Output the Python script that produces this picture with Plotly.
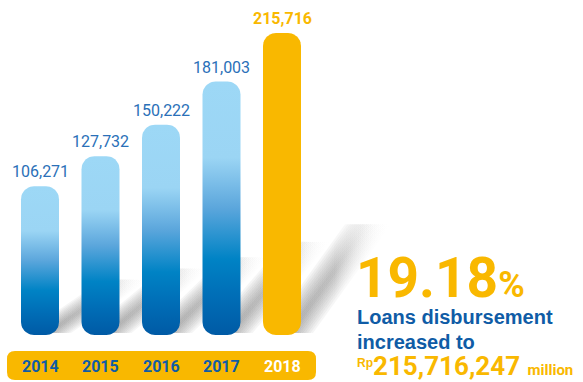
import numpy as np
import plotly.graph_objects as go

# ---- data ----
years = ["2014", "2015", "2016", "2017", "2018"]
loans = [106271, 127732, 150222, 181003, 215716]
value_labels = ["106,271", "127,732", "150,222", "181,003", "215,716"]
growth_text = "19.18"
headline_lines = ["Loans disbursement", "increased to"]
total_text = "215,716,247"

# ---- canvas / scale helpers ----
W, H = 583, 382
PX_PER_X = 60.5                 # pixels between bar centres
X0_PX = 40                      # pixel of first bar centre
BASE_PX = 335                   # pixel row of the zero line
Y_PER_PX = 215716 / 302         # value units per pixel
X_RANGE = [(0 - X0_PX) / PX_PER_X, (W - X0_PX) / PX_PER_X]
Y_RANGE = [(BASE_PX - H) * Y_PER_PX, BASE_PX * Y_PER_PX]

BLUE_TXT = "#2a70b8"
DARK_BLUE = "#0f5ca6"
YELLOW = "#f9b800"

BAR_HALF = 19 / PX_PER_X
R_PX = 13
RX, RY = R_PX / PX_PER_X, R_PX * Y_PER_PX


def px2x(p):
    return (p - X0_PX) / PX_PER_X


def px2y(p):
    return (BASE_PX - p) * Y_PER_PX


def rounded_bar(xc, top):
    """Outline of a bar with all four corners rounded (data coords)."""
    xs, ys = [], []
    arcs = [
        (xc - BAR_HALF + RX, top - RY, 180, 90),
        (xc + BAR_HALF - RX, top - RY, 90, 0),
        (xc + BAR_HALF - RX, RY, 0, -90),
        (xc - BAR_HALF + RX, RY, -90, -180),
    ]
    for cx, cy, a0, a1 in arcs:
        t = np.radians(np.linspace(a0, a1, 12))
        xs.extend(cx + RX * np.cos(t))
        ys.extend(cy + RY * np.sin(t))
    xs.append(xs[0])
    ys.append(ys[0])
    return xs, ys


fig = go.Figure()

# ---- soft diagonal shadows behind each bar (stacked translucent bands) ----
for i, v in enumerate(loans):
    h_px = v / Y_PER_PX
    cx_px = X0_PX + PX_PER_X * i
    dy = 0.36 * h_px
    dx = 78
    for width in np.linspace(46, 6, 9):
        x_left = cx_px + 8 - width / 2
        x_right = cx_px + 8 + width / 2
        pts_px = [
            (x_left, BASE_PX - 2),
            (x_right, BASE_PX - 2),
            (x_right + dx, BASE_PX - 2 - dy),
            (x_left + dx, BASE_PX - 2 - dy),
            (x_left, BASE_PX - 2),
        ]
        fig.add_trace(go.Scatter(
            x=[px2x(p[0]) for p in pts_px],
            y=[px2y(p[1]) for p in pts_px],
            mode="lines", line=dict(width=0), fill="toself",
            fillgradient=dict(
                type="horizontal",
                colorscale=[[0, "rgba(90,90,90,0.075)"],
                            [0.55, "rgba(110,110,110,0.06)"],
                            [1, "rgba(200,200,200,0)"]],
            ),
            hoverinfo="skip", showlegend=False,
        ))

# ---- bars ----
blue_scale = [
    [0.0, "#005aa5"], [0.15, "#006db6"], [0.3, "#0083c5"],
    [0.5, "#5ba6dc"], [0.7, "#9bd5f4"], [1.0, "#9dd8f6"],
]
for i, v in enumerate(loans):
    xs, ys = rounded_bar(i, v)
    if i == len(loans) - 1:
        fill_kw = dict(fillcolor=YELLOW)
    else:
        fill_kw = dict(fillgradient=dict(type="vertical", colorscale=blue_scale))
    fig.add_trace(go.Scatter(
        x=xs, y=ys, mode="lines", line=dict(width=0), fill="toself",
        hoverinfo="skip", showlegend=False, **fill_kw,
    ))

# ---- value labels ----
for i, (v, lab) in enumerate(zip(loans, value_labels)):
    last = i == len(loans) - 1
    fig.add_annotation(
        x=i, y=v, text=lab, showarrow=False, yanchor="bottom", yshift=3,
        font=dict(family="Roboto", size=16,
                  color=YELLOW if last else BLUE_TXT,
                  weight="bold" if last else "normal"),
    )

# ---- year strip ----
fig.add_shape(
    type="path", xref="x", yref="y", layer="below", line=dict(width=0),
    fillcolor=YELLOW,
    path=(lambda x0, x1, y0, y1, r: (
        f"M{px2x(x0 + r)},{px2y(y0)} L{px2x(x1 - r)},{px2y(y0)} "
        f"Q{px2x(x1)},{px2y(y0)} {px2x(x1)},{px2y(y0 + r)} "
        f"L{px2x(x1)},{px2y(y1 - r)} Q{px2x(x1)},{px2y(y1)} {px2x(x1 - r)},{px2y(y1)} "
        f"L{px2x(x0 + r)},{px2y(y1)} Q{px2x(x0)},{px2y(y1)} {px2x(x0)},{px2y(y1 - r)} "
        f"L{px2x(x0)},{px2y(y0 + r)} Q{px2x(x0)},{px2y(y0)} {px2x(x0 + r)},{px2y(y0)} Z"
    ))(7, 316, 351, 380, 8),
)
for i, yr in enumerate(years):
    last = i == len(years) - 1
    fig.add_annotation(
        x=i, y=px2y(366), text=yr, showarrow=False, yanchor="middle",
        font=dict(family="Roboto", size=16, weight="bold",
                  color="white" if last else DARK_BLUE),
    )

# ---- headline block ----
fig.add_annotation(
    xref="paper", yref="paper", x=354 / W, y=1 - 278 / H,
    xanchor="left", yanchor="middle", showarrow=False,
    text=f"{growth_text}<span style='font-size:36px'>%</span>",
    font=dict(family="Roboto", size=55, weight="bold", color=YELLOW),
)
for k, line in enumerate(headline_lines):
    fig.add_annotation(
        xref="paper", yref="paper", x=355 / W, y=1 - (317 + 25 * k) / H,
        xanchor="left", yanchor="middle", showarrow=False, text=line,
        font=dict(family="Liberation Sans", size=20, weight="bold", color=DARK_BLUE),
    )
fig.add_annotation(
    xref="paper", yref="paper", x=355 / W, y=1 - 363 / H,
    xanchor="left", yanchor="middle", showarrow=False, text="Rp",
    font=dict(family="Liberation Sans", size=12, weight="bold", color=YELLOW),
)
fig.add_annotation(
    xref="paper", yref="paper", x=372 / W, y=0,
    xanchor="left", yanchor="bottom", showarrow=False, borderpad=0,
    text=f"{total_text}<span style='font-size:15px'>  million</span>",
    font=dict(family="Roboto", size=26, weight="bold", color=YELLOW),
)

fig.update_layout(
    width=W, height=H, margin=dict(l=0, r=0, t=0, b=0),
    paper_bgcolor="white", plot_bgcolor="white",
    xaxis=dict(range=X_RANGE, visible=False, fixedrange=True),
    yaxis=dict(range=Y_RANGE, visible=False, fixedrange=True),
    showlegend=False,
)
fig.write_html("out.html")
